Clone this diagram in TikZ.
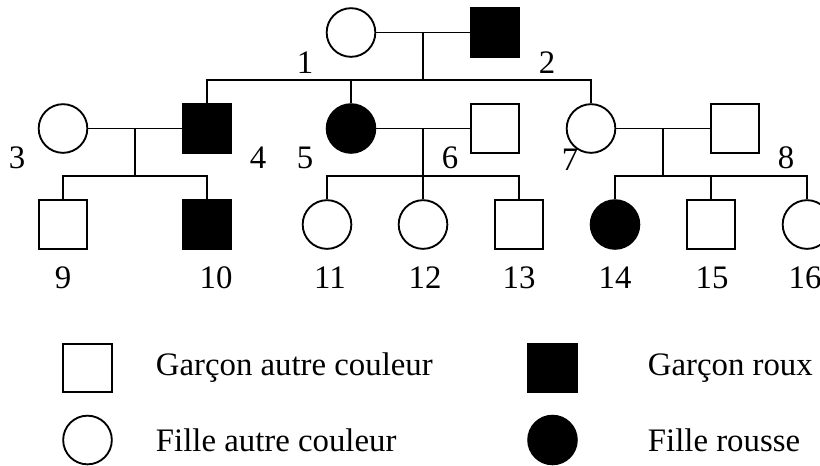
\documentclass[tikz,border=0pt]{standalone}
\usepackage{fontspec}
\setmainfont{Liberation Serif}
\usepackage{tikz}
\usetikzlibrary{positioning}

\begin{document}
\begin{tikzpicture}[x=0.75pt,y=-0.75pt,line width=1.4pt,
  font=\fontsize{24.6}{29}\selectfont,
  boy/.style={draw=black, rectangle, minimum size=36.5pt, inner sep=0pt},
  girl/.style={draw=black, circle, minimum size=36.5pt, inner sep=0pt},
  roux/.style={fill=black},
  num/.style={inner sep=0pt}]
\useasboundingbox (0,0) rectangle (820,465);
% generation 1
\node[girl] (i1) at (351,32.5) {};
\node[boy, roux] (i2) at (495,32.5) {};
% generation 2
\node[girl] (i3) at (63,128.5) {};
\node[boy, roux] (i4) at (207,128.5) {};
\node[girl, roux] (i5) at (351,128.5) {};
\node[boy] (i6) at (495,128.5) {};
\node[girl] (i7) at (591,128.5) {};
\node[boy] (i8) at (735,128.5) {};
% generation 3
\node[boy] (i9) at (63,224.5) {};
\node[boy, roux] (i10) at (207,224.5) {};
\node[girl] (i11) at (327,224.5) {};
\node[girl] (i12) at (423,224.5) {};
\node[boy] (i13) at (519,224.5) {};
\node[girl, roux] (i14) at (615,224.5) {};
\node[boy] (i15) at (711,224.5) {};
\node[girl] (i16) at (807,224.5) {};
% couples and children
\coordinate (c12) at (423,32.5);
\coordinate (s12) at (423,80);
\draw (i1) -- (i2);
\draw (c12) -- (s12);
\draw (i4) |- (s12) -| (i7);
\draw (i5) -- (i5 |- s12);
\coordinate (c34) at (135,128.5);
\coordinate (s34) at (135,176);
\draw (i3) -- (i4);
\draw (c34) -- (s34);
\draw (i9) |- (s34) -| (i10);
\coordinate (c56) at (423,128.5);
\coordinate (s56) at (423,176);
\draw (i5) -- (i6);
\draw (c56) -- (s56);
\draw (i11) |- (s56) -| (i13);
\draw (i12) -- (i12 |- s56);
\coordinate (c78) at (663,128.5);
\coordinate (s78) at (663,176);
\draw (i7) -- (i8);
\draw (c78) -- (s78);
\draw (i14) |- (s78) -| (i16);
\draw (i15) -- (i15 |- s78);
% numbers
\node[num] (l1) at (305,63) {1};
\node[num] (l2) at (547,63) {2};
\node[num] (l3) at (17,158) {3};
\node[num] (l4) at (258,158) {4};
\node[num] (l5) at (305,158) {5};
\node[num] (l6) at (450,158) {6};
\node[num] (l7) at (570,160) {7};
\node[num] (l8) at (786,158) {8};
\node[num] (l9) at (63,278) {9};
\node[num] (l10) at (216,278) {10};
\node[num] (l11) at (330,278) {11};
\node[num] (l12) at (425,278) {12};
\node[num] (l13) at (519,278) {13};
\node[num] (l14) at (615,278) {14};
\node[num] (l15) at (712,278) {15};
\node[num] (l16) at (805,278) {16};
% legend
\node[boy] (k1) at (87.5,368) {};
\node[boy, roux] (k2) at (552.5,368) {};
\node[girl] (k3) at (87.5,440) {};
\node[girl, roux] (k4) at (552.5,440) {};
\node[num, anchor=west] (t1) at (155,368) {Garçon autre couleur};
\node[num, anchor=west] (t2) at (647,368) {Garçon roux};
\node[num, anchor=west] (t3) at (155,440) {Fille autre couleur};
\node[num, anchor=west] (t4) at (647,440) {Fille rousse};
\end{tikzpicture}
\end{document}
